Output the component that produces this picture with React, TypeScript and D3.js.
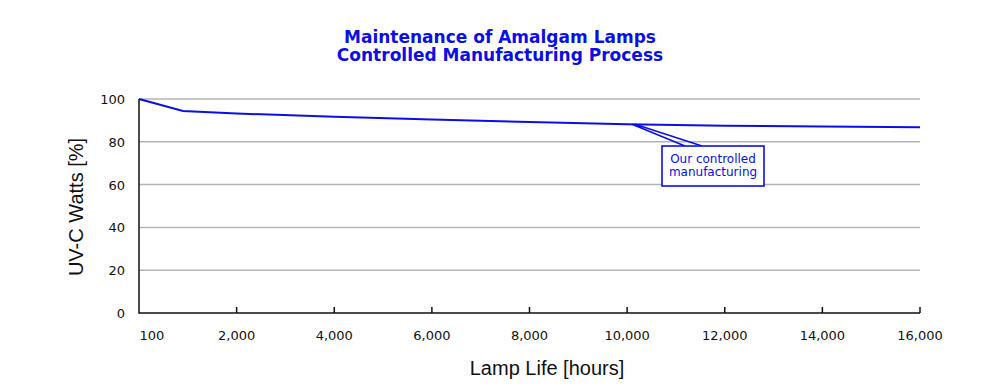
import { useRef, useEffect } from "react";
import * as d3 from "d3";

// lamp life in hours and remaining UV-C output in %
const hours = [0, 900, 2000, 4000, 6000, 8000, 10000, 12000, 14000, 16000];
const uvcPercent = [100, 94.4, 93.2, 91.7, 90.4, 89.3, 88.2, 87.5, 87.1, 86.8];

const xTicks = [0, 2000, 4000, 6000, 8000, 10000, 12000, 14000, 16000];
const xTickLabels = ["100", "2,000", "4,000", "6,000", "8,000", "10,000", "12,000", "14,000", "16,000"];
const yTicks = [0, 20, 40, 60, 80, 100];

const titleLines = ["Maintenance of Amalgam Lamps", "Controlled Manufacturing Process"];
const calloutLines = ["Our controlled", "manufacturing"];
const calloutHour = 10100;

const BLUE = "#0b0fe6";
const GOTHIC = "'DejaVu Sans', Verdana, sans-serif";
const ARIAL = "'Liberation Sans', Arial, sans-serif";

const App = () => {
  const ref = useRef<SVGSVGElement | null>(null);

  useEffect(() => {
    const svg = d3.select(ref.current);
    svg.selectAll("*").remove();

    const left = 139;
    const right = 920;
    const top = 99;
    const bottom = 313;

    const x = d3.scaleLinear().domain([0, 16000]).range([left, right]);
    const y = d3.scaleLinear().domain([0, 100]).range([bottom, top]);

    // title
    svg
      .append("g")
      .selectAll("text")
      .data(titleLines)
      .join("text")
      .attr("x", 500)
      .attr("y", (_d, i) => 43 + i * 18)
      .attr("text-anchor", "middle")
      .attr("font-family", GOTHIC)
      .attr("font-weight", "bold")
      .attr("font-size", 17)
      .attr("fill", BLUE)
      .text((d) => d);

    // grid lines
    svg
      .append("g")
      .selectAll("line")
      .data(yTicks.filter((t) => t > 0))
      .join("line")
      .attr("x1", left)
      .attr("x2", right)
      .attr("y1", (d) => y(d))
      .attr("y2", (d) => y(d))
      .attr("stroke", "#b4b4b4")
      .attr("stroke-width", 1.5);

    // y labels
    svg
      .append("g")
      .selectAll("text")
      .data(yTicks)
      .join("text")
      .attr("x", 125)
      .attr("y", (d) => y(d) + 5)
      .attr("text-anchor", "end")
      .attr("font-family", GOTHIC)
      .attr("font-size", 13)
      .attr("fill", "#111")
      .text((d) => d);

    // axes
    svg
      .append("path")
      .attr("d", `M${left},${top} V${bottom} H${right}`)
      .attr("fill", "none")
      .attr("stroke", "#111")
      .attr("stroke-width", 1.5);

    svg
      .append("g")
      .selectAll("line")
      .data(xTicks.filter((t) => t > 0))
      .join("line")
      .attr("x1", (d) => x(d))
      .attr("x2", (d) => x(d))
      .attr("y1", bottom)
      .attr("y2", bottom - 6)
      .attr("stroke", "#111")
      .attr("stroke-width", 1.5);

    svg
      .append("g")
      .selectAll("text")
      .data(xTicks)
      .join("text")
      .attr("x", (d, i) => (i === 0 ? x(d) + 13 : x(d)))
      .attr("y", 340)
      .attr("text-anchor", "middle")
      .attr("font-family", GOTHIC)
      .attr("font-size", 13)
      .attr("fill", "#111")
      .text((_d, i) => xTickLabels[i]);

    // axis titles
    svg
      .append("text")
      .attr("transform", `translate(83,207) rotate(-90)`)
      .attr("text-anchor", "middle")
      .attr("font-family", ARIAL)
      .attr("font-size", 20)
      .attr("fill", "#111")
      .text("UV-C Watts [%]");

    svg
      .append("text")
      .attr("x", 547)
      .attr("y", 375)
      .attr("text-anchor", "middle")
      .attr("font-family", ARIAL)
      .attr("font-size", 20)
      .attr("fill", "#111")
      .text("Lamp Life [hours]");

    // data line
    const line = d3
      .line<number>()
      .x((_d, i) => x(hours[i]))
      .y((d) => y(d));

    svg
      .append("path")
      .attr("d", line(uvcPercent))
      .attr("fill", "none")
      .attr("stroke", BLUE)
      .attr("stroke-width", 2);

    // callout
    const ax = x(calloutHour);
    const ay = y(d3.interpolateNumber(uvcPercent[6], uvcPercent[7])((calloutHour - 10000) / 2000));
    const boxX = 662;
    const boxY = 146;
    const boxW = 102;
    const boxH = 40;

    svg
      .append("path")
      .attr("d", `M${ax},${ay} L${boxX + 23},${boxY} M${ax + 3},${ay} L${boxX + 40},${boxY}`)
      .attr("fill", "none")
      .attr("stroke", BLUE)
      .attr("stroke-width", 1.6);

    svg
      .append("rect")
      .attr("x", boxX)
      .attr("y", boxY)
      .attr("width", boxW)
      .attr("height", boxH)
      .attr("fill", "#fff")
      .attr("stroke", BLUE)
      .attr("stroke-width", 1.6);

    svg
      .append("g")
      .selectAll("text")
      .data(calloutLines)
      .join("text")
      .attr("x", boxX + boxW / 2)
      .attr("y", (_d, i) => boxY + 17 + i * 13)
      .attr("text-anchor", "middle")
      .attr("font-family", GOTHIC)
      .attr("font-size", 12)
      .attr("fill", BLUE)
      .text((d) => d);
  }, []);

  return (
    <svg
      ref={ref}
      width={1000}
      height={392}
      style={{ position: "absolute", left: 0, top: 0, background: "#fff" }}
    />
  );
};

export default App;
